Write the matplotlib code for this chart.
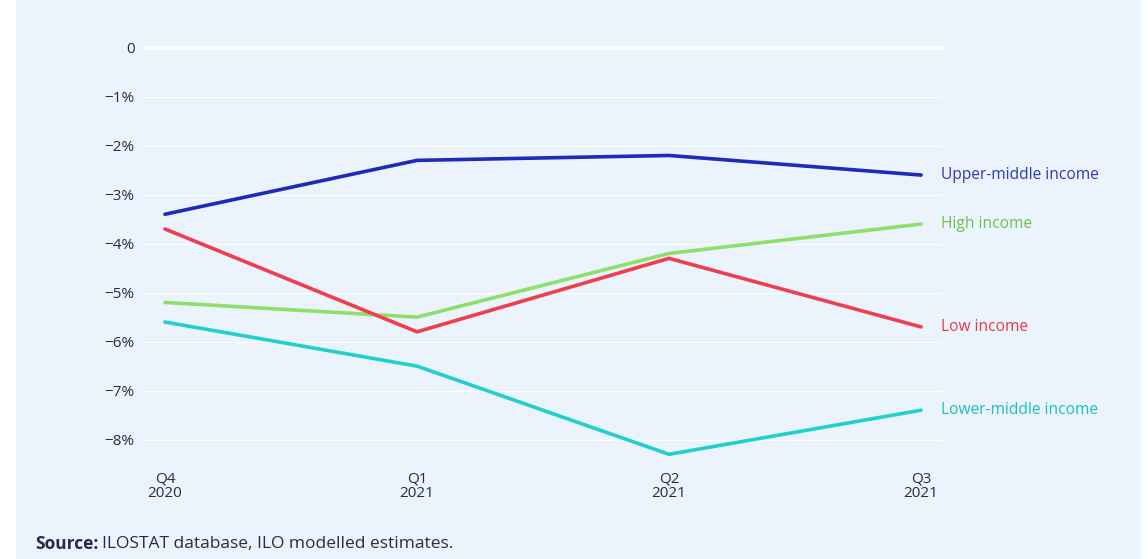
import matplotlib.pyplot as plt
from matplotlib.patches import Rectangle
from matplotlib.ticker import FuncFormatter

plt.rcParams['font.family'] = ['Open Sans', 'Noto Sans', 'DejaVu Sans']

# quarters on the x axis
quarters = ["Q4\n2020", "Q1\n2021", "Q2\n2021", "Q3\n2021"]

# change in working hours, % (by income group)
upper_middle = [-3.4, -2.3, -2.2, -2.6]
high = [-5.2, -5.5, -4.2, -3.6]
low = [-3.7, -5.8, -4.3, -5.7]
lower_middle = [-5.6, -6.5, -8.3, -7.4]

series_names = ["Upper-middle income", "High income", "Low income", "Lower-middle income"]
series_values = [upper_middle, high, low, lower_middle]
line_colors = ["#1f2ab8", "#8fe06a", "#f03e4e", "#22cfcf"]
label_colors = ["#2d39b3", "#6cc24a", "#e8394b", "#1fbdbd"]

y_ticks = [0, -1, -2, -3, -4, -5, -6, -7, -8]

bg = "#ebf4fc"
ink = "#2a2a48"

fig = plt.figure(figsize=(11.48, 5.59), dpi=100)
fig.patch.set_facecolor("white")
# light panel behind the whole chart
fig.patches.append(Rectangle((16 / 1148, 0), 1125 / 1148, 1, transform=fig.transFigure,
                             facecolor=bg, edgecolor="none", zorder=-5))

ax = fig.add_axes([143 / 1148, 90 / 559, 800 / 1148, 436 / 559])
ax.set_facecolor("none")

x = list(range(len(quarters)))
for name, vals, lc, tc in zip(series_names, series_values, line_colors, label_colors):
    ax.plot(x, vals, color=lc, lw=2.6, solid_capstyle="round", zorder=3)
    ax.text(x[-1] + 0.08, vals[-1], name, color=tc, fontsize=11.2,
            va="center", ha="left", clip_on=False)

for t in y_ticks:
    ax.axhline(t, color="white", lw=2.6 if t == 0 else 0.9, zorder=1)

ax.set_xlim(-0.087, 3.087)
ax.set_ylim(-8.6, 0.3)
ax.set_yticks(y_ticks)
ax.yaxis.set_major_formatter(FuncFormatter(
    lambda v, p: "0" if v == 0 else f"\u2212{abs(v):.0f}%"))
ax.set_xticks(x)
ax.set_xticklabels(quarters, linespacing=0.95)
ax.tick_params(axis="both", length=0, colors=ink, labelsize=11)
ax.tick_params(axis="y", pad=6)
ax.tick_params(axis="x", pad=2)
for s in ax.spines.values():
    s.set_visible(False)

src_y = 1 - 544 / 559
lead = fig.text(35 / 1148, src_y, "Source:", fontsize=12.5, fontweight="bold",
                color=ink, va="center", ha="left")
fig.canvas.draw()
lead_end = lead.get_window_extent().x1 / fig.bbox.width
fig.text(lead_end + 4 / 1148, src_y, "ILOSTAT database, ILO modelled estimates.",
         fontsize=12.5, color=ink, va="center", ha="left")

fig.savefig("out.png", dpi=100, facecolor=fig.get_facecolor())
